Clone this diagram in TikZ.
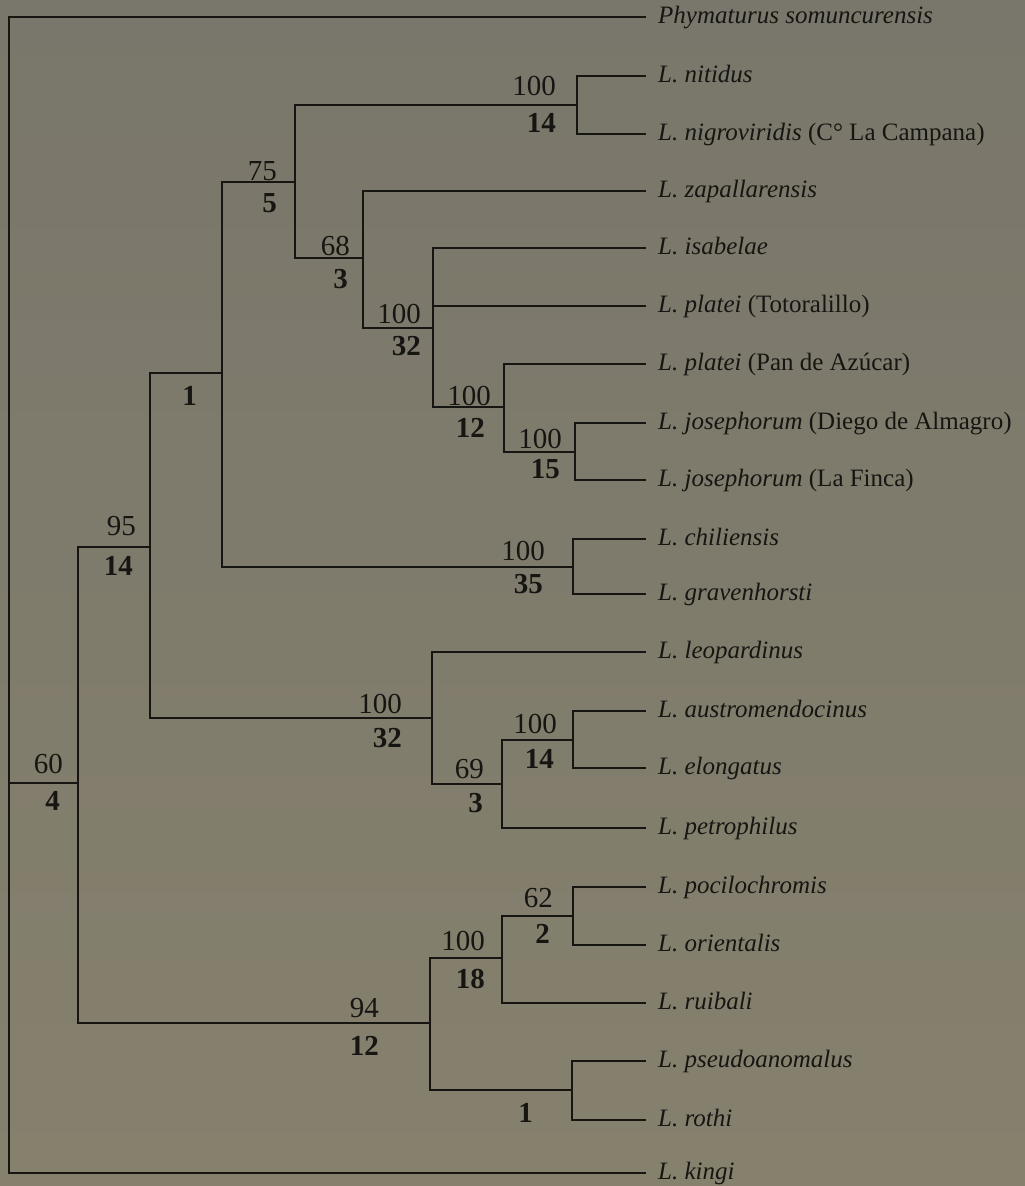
\documentclass[tikz,border=0pt]{standalone}
\usepackage{fontspec}
\setmainfont{Liberation Serif}
\usepackage{tikz}

\definecolor{papertop}{RGB}{121,118,107}
\definecolor{paperlow}{RGB}{134,129,109}
\definecolor{ink}{RGB}{22,21,18}

\tikzset{
  branch/.style={draw=ink, line width=2.2pt, line cap=rect, line join=miter},
  taxon/.style={anchor=west, inner xsep=13pt, inner ysep=0pt, text height=17pt,
    text depth=5pt, text=ink, font=\fontsize{25}{30}\selectfont},
  boot/.style={anchor=base east, inner sep=0pt, text=ink, font=\fontsize{29}{34}\selectfont},
  bremer/.style={boot, font=\fontsize{29}{34}\selectfont\bfseries},
}

\begin{document}
\begin{tikzpicture}[x=1pt, y=-1pt]
        \shade[top color=papertop, bottom color=paperlow] (0,0) rectangle (1025,1186);
        \useasboundingbox (0,0) rectangle (1025,1186);

        % internal nodes of the cladogram
        \coordinate (root) at (9,597);
        \coordinate (cl60) at (78,783);
        \coordinate (cl95) at (150,547);
        \coordinate (cl1a) at (222,373);
        \coordinate (cl75) at (295,182);
        \coordinate (clnit) at (577,105);
        \coordinate (cl68) at (363,258);
        \coordinate (clpla) at (433,328);
        \coordinate (clpan) at (504,407);
        \coordinate (cljos) at (575,452);
        \coordinate (clchi) at (573,567);
        \coordinate (clleo) at (432,718);
        \coordinate (cl69) at (502,784);
        \coordinate (claus) at (573,740);
        \coordinate (cl94) at (430,1023);
        \coordinate (clrui) at (502,958);
        \coordinate (cl62) at (573,916);
        \coordinate (cl1b) at (572,1090);

        % terminal taxa
        \node[taxon] (phy) at (645,17) {\textit{Phymaturus somuncurensis}};
        \node[taxon] (nit) at (645,76) {\textit{L. nitidus}};
        \node[taxon] (nig) at (645,134) {\textit{L. nigroviridis} (C° La Campana)};
        \node[taxon] (zap) at (645,191) {\textit{L. zapallarensis}};
        \node[taxon] (isa) at (645,248) {\textit{L. isabelae}};
        \node[taxon] (plat) at (645,306) {\textit{L. platei} (Totoralillo)};
        \node[taxon] (plap) at (645,364) {\textit{L. platei} (Pan de Azúcar)};
        \node[taxon] (josd) at (645,423) {\textit{L. josephorum} (Diego de Almagro)};
        \node[taxon] (josf) at (645,480) {\textit{L. josephorum} (La Finca)};
        \node[taxon] (chi) at (645,539) {\textit{L. chiliensis}};
        \node[taxon] (gra) at (645,594) {\textit{L. gravenhorsti}};
        \node[taxon] (leo) at (645,652) {\textit{L. leopardinus}};
        \node[taxon] (aus) at (645,711) {\textit{L. austromendocinus}};
        \node[taxon] (elo) at (645,768) {\textit{L. elongatus}};
        \node[taxon] (pet) at (645,828) {\textit{L. petrophilus}};
        \node[taxon] (poc) at (645,887) {\textit{L. pocilochromis}};
        \node[taxon] (ori) at (645,945) {\textit{L. orientalis}};
        \node[taxon] (rui) at (645,1003) {\textit{L. ruibali}};
        \node[taxon] (pse) at (645,1061) {\textit{L. pseudoanomalus}};
        \node[taxon] (rot) at (645,1120) {\textit{L. rothi}};
        \node[taxon] (kin) at (645,1173) {\textit{L. kingi}};

        % branches
        \draw[branch] (root) |- (phy.west) (root) |- (cl60) (root) |- (kin.west);
        \draw[branch] (cl60) |- (cl95) (cl60) |- (cl94);
        \draw[branch] (cl95) |- (cl1a) (cl95) |- (clleo);
        \draw[branch] (cl1a) |- (cl75) (cl1a) |- (clchi);
        \draw[branch] (cl75) |- (clnit) (cl75) |- (cl68);
        \draw[branch] (clnit) |- (nit.west) (clnit) |- (nig.west);
        \draw[branch] (cl68) |- (zap.west) (cl68) |- (clpla);
        \draw[branch] (clpla) |- (isa.west) (clpla) |- (plat.west) (clpla) |- (clpan);
        \draw[branch] (clpan) |- (plap.west) (clpan) |- (cljos);
        \draw[branch] (cljos) |- (josd.west) (cljos) |- (josf.west);
        \draw[branch] (clchi) |- (chi.west) (clchi) |- (gra.west);
        \draw[branch] (clleo) |- (leo.west) (clleo) |- (cl69);
        \draw[branch] (cl69) |- (claus) (cl69) |- (pet.west);
        \draw[branch] (claus) |- (aus.west) (claus) |- (elo.west);
        \draw[branch] (cl94) |- (clrui) (cl94) |- (cl1b);
        \draw[branch] (clrui) |- (cl62) (clrui) |- (rui.west);
        \draw[branch] (cl62) |- (poc.west) (cl62) |- (ori.west);
        \draw[branch] (cl1b) |- (pse.west) (cl1b) |- (rot.west);

        % bootstrap (above) and Bremer support (below, bold)
        \node[boot] (b60) at (63,773) {60};     \node[bremer] (r60) at (60,810) {4};
        \node[boot] (b95) at (136,535) {95};    \node[bremer] (r95) at (133,575) {14};
        \node[bremer] (r1a) at (197,405) {1};
        \node[boot] (b75) at (277,180) {75};    \node[bremer] (r75) at (277,212) {5};
        \node[boot] (bnit) at (556,95) {100};   \node[bremer] (rnit) at (556,132) {14};
        \node[boot] (b68) at (350,255) {68};    \node[bremer] (r68) at (348,288) {3};
        \node[boot] (bpla) at (421,323) {100};  \node[bremer] (rpla) at (421,355) {32};
        \node[boot] (bpan) at (491,405) {100};  \node[bremer] (rpan) at (485,437) {12};
        \node[boot] (bjos) at (562,448) {100};  \node[bremer] (rjos) at (560,478) {15};
        \node[boot] (bchi) at (545,560) {100};  \node[bremer] (rchi) at (543,593) {35};
        \node[boot] (bleo) at (402,713) {100};  \node[bremer] (rleo) at (402,747) {32};
        \node[boot] (baus) at (557,733) {100};  \node[bremer] (raus) at (554,768) {14};
        \node[boot] (b69) at (484,778) {69};    \node[bremer] (r69) at (483,812) {3};
        \node[boot] (b94) at (379,1017) {94};   \node[bremer] (r94) at (379,1055) {12};
        \node[boot] (brui) at (485,950) {100};  \node[bremer] (rrui) at (485,988) {18};
        \node[boot] (b62) at (553,907) {62};    \node[bremer] (r62) at (550,943) {2};
        \node[bremer] (r1b) at (533,1122) {1};
\end{tikzpicture}
\end{document}
